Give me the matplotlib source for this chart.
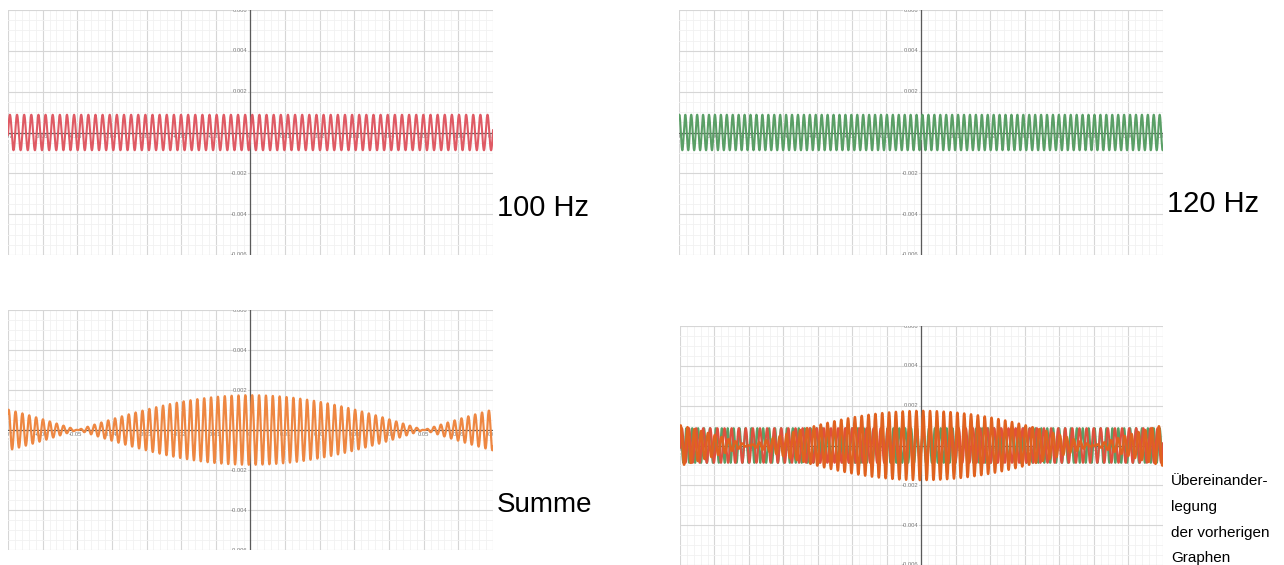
"""Vier Desmos-artige Funktionsplots: 100 Hz, 120 Hz, Summe, Überlagerung."""

import numpy as np
import matplotlib.pyplot as plt

W, H = 1284, 565

# values (time window in s, amplitude, apparent frequencies)
T_RANGE = (-0.07, 0.07)
AMPLITUDE = 0.00087
RED_HZ = 486
GREEN_HZ = 583
SUM_CARRIER_HZ = 505
SUM_BEAT_HZ = 10

X_TICKS = [-0.07, -0.06, -0.05, -0.04, -0.03, -0.02, -0.01, 0.0,
           0.01, 0.02, 0.03, 0.04, 0.05, 0.06, 0.07]
X_TICK_LABELS = ["-0.07", "-0.06", "-0.05", "-0.04", "-0.03", "-0.02", "-0.01", "0",
                 "0.01", "0.02", "0.03", "0.04", "0.05", "0.06", "0.07"]
Y_TICKS = [-0.006, -0.004, -0.002, 0.002, 0.004, 0.006]
Y_TICK_LABELS = ["-0.006", "-0.004", "-0.002", "0.002", "0.004", "0.006"]

PANEL_TITLES = ["100 Hz", "120 Hz", "Summe"]
OVERLAY_LINES = ["Übereinander-", "legung", "der vorherigen", "Graphen"]

RED = "#df5a64"
GREEN = "#5a9f66"
ORANGE = "#ee8742"
RED_OVERLAY = "#e0503e"
ORANGE_DARK = "#e0621f"

plt.rcParams["font.family"] = ["Liberation Sans", "DejaVu Sans"]


def px_axes(fig, left, top, right, bottom):
    return fig.add_axes([left / W, 1 - bottom / H, (right - left) / W, (bottom - top) / H])


def desmos_grid(ax, ylim):
    ax.set_xlim(*T_RANGE)
    ax.set_ylim(*ylim)
    ax.set_xticks(np.arange(-0.07, 0.0701, 0.01))
    ax.set_xticks(np.arange(-0.07, 0.0701, 0.002), minor=True)
    ax.set_yticks(np.arange(-0.006, 0.00601, 0.002))
    ax.set_yticks(np.arange(-0.006, 0.00601, 0.0005), minor=True)
    ax.grid(True, which="major", color="#d6d6d6", linewidth=0.8, zorder=0)
    ax.grid(True, which="minor", color="#f1f1f1", linewidth=0.6, zorder=0)
    ax.set_axisbelow(True)
    ax.tick_params(which="both", length=0, labelbottom=False, labelleft=False)
    for s in ax.spines.values():
        s.set_visible(False)
    ax.axhline(0, color="#5a5a5a", linewidth=0.9, zorder=1)
    ax.axvline(0, color="#5a5a5a", linewidth=0.9, zorder=1)

    for x, lab in zip(X_TICKS, X_TICK_LABELS):
        ax.annotate(lab, (x, 0), xytext=(-1 if x <= 0 else 0, -3.2),
                    textcoords="offset points", ha="center", va="center",
                    fontsize=4.2, color="#777777", zorder=2, clip_on=True,
                    bbox=dict(boxstyle="square,pad=0.1", fc="white", ec="none", alpha=0.8))
    for y, lab in zip(Y_TICKS, Y_TICK_LABELS):
        ax.annotate(lab, (0, y), xytext=(-2, 0), textcoords="offset points",
                    ha="right", va="center", fontsize=4.2, color="#777777",
                    zorder=2, clip_on=True,
                    bbox=dict(boxstyle="square,pad=0.1", fc="white", ec="none", alpha=0.8))


t = np.linspace(T_RANGE[0], T_RANGE[1], 30000)
y_red = AMPLITUDE * np.sin(2 * np.pi * RED_HZ * t)
y_green = AMPLITUDE * np.sin(2 * np.pi * GREEN_HZ * t)
y_sum = (2 * AMPLITUDE * np.cos(np.pi * SUM_BEAT_HZ * t)
         * np.sin(2 * np.pi * SUM_CARRIER_HZ * t))

fig = plt.figure(figsize=(W / 100, H / 100), dpi=100)

# --- 100 Hz ---
ax1 = px_axes(fig, 8, 10, 493, 255)
desmos_grid(ax1, (-0.006, 0.006))
ax1.plot(t, y_red, color=RED, linewidth=1.5, zorder=3)

# --- 120 Hz ---
ax2 = px_axes(fig, 679, 10, 1163, 255)
desmos_grid(ax2, (-0.006, 0.006))
ax2.plot(t, y_green, color=GREEN, linewidth=1.5, zorder=3)

# --- Summe ---
ax3 = px_axes(fig, 8, 310, 493, 550)
desmos_grid(ax3, (-0.006, 0.006))
ax3.plot(t, y_sum, color=ORANGE, linewidth=1.6, zorder=3)

# --- Überlagerung ---
ax4 = px_axes(fig, 680, 326, 1163, 565)
desmos_grid(ax4, (-0.00575, 0.006))
ax4.plot(t, y_green, color=GREEN, linewidth=1.5, zorder=3)
ax4.plot(t, y_red, color=RED_OVERLAY, linewidth=1.5, zorder=3)
ax4.plot(t, y_sum, color=ORANGE_DARK, linewidth=1.7, zorder=4)

# --- labels beside the panels ---
fig.text(497 / W, 1 - 216 / H, PANEL_TITLES[0], fontsize=21, va="baseline", ha="left")
fig.text(1167 / W, 1 - 212 / H, PANEL_TITLES[1], fontsize=21, va="baseline", ha="left")
fig.text(497 / W, 1 - 512 / H, PANEL_TITLES[2], fontsize=20, va="baseline", ha="left")
for line, base in zip(OVERLAY_LINES, [485, 511, 537, 562]):
    fig.text(1171 / W, 1 - base / H, line, fontsize=11, va="baseline", ha="left")

fig.savefig("out.png", dpi=100)
